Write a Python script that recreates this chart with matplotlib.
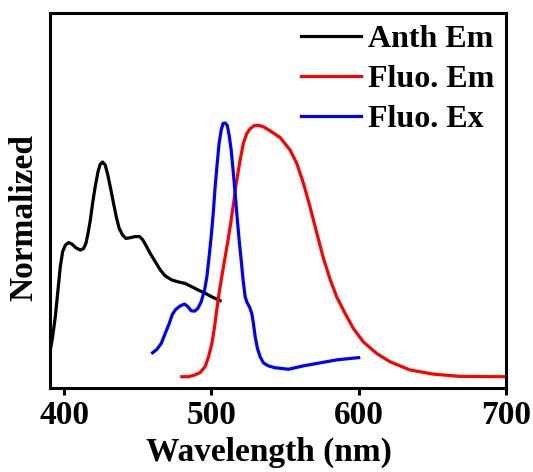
import matplotlib
matplotlib.use("Agg")
import matplotlib.pyplot as plt

# Anthracene emission (black)
anth_x = [390.5, 392.1, 393.9, 395.7, 397.3, 398.9, 400.7, 402.9, 405.2, 407.9,
          410.9, 413.1, 414.7, 416.1, 417.7, 419.2, 421.0, 422.9, 424.4, 426.0,
          427.8, 429.6, 431.5, 433.5, 435.3, 437.3, 439.6, 441.9, 444.8, 448.2,
          451.1, 453.2, 455.4, 458.4, 461.8, 465.2, 468.6, 473.1, 477.6, 482.1,
          486.7, 491.2, 495.7, 500.3, 505.9]
anth_y = [0.101, 0.137, 0.190, 0.261, 0.324, 0.364, 0.381, 0.388, 0.384, 0.374,
          0.368, 0.372, 0.386, 0.412, 0.448, 0.492, 0.537, 0.577, 0.597, 0.603,
          0.595, 0.568, 0.532, 0.492, 0.457, 0.426, 0.408, 0.399, 0.401, 0.404,
          0.404, 0.396, 0.381, 0.359, 0.337, 0.315, 0.299, 0.288, 0.283, 0.279,
          0.270, 0.261, 0.253, 0.243, 0.233]

# Fluorescein emission (red)
fem_x = [479.9, 484.4, 488.9, 492.3, 495.7, 498.0, 500.3, 502.1, 503.6, 505.2,
         507.0, 509.3, 511.6, 513.4, 515.0, 516.5, 518.3, 519.9, 521.7, 524.0,
         526.3, 529.0, 531.9, 535.3, 539.9, 546.7, 553.4, 558.0, 562.5, 567.0,
         571.6, 576.0, 580.6, 585.1, 590.8, 596.4, 603.2, 612.3, 621.3, 628.1,
         635.0, 650.7, 668.8, 700.0]
fem_y = [0.030, 0.030, 0.035, 0.041, 0.057, 0.083, 0.119, 0.163, 0.208, 0.253,
         0.297, 0.350, 0.403, 0.448, 0.492, 0.537, 0.581, 0.617, 0.653, 0.679,
         0.692, 0.700, 0.701, 0.697, 0.686, 0.668, 0.635, 0.599, 0.546, 0.483,
         0.413, 0.347, 0.290, 0.243, 0.199, 0.159, 0.123, 0.092, 0.070, 0.059,
         0.048, 0.037, 0.031, 0.030]

# Fluorescein excitation (blue)
fex_x = [460.0, 462.9, 465.9, 468.6, 471.3, 473.5, 475.8, 478.8, 481.7, 484.0,
         486.2, 488.5, 490.7, 493.0, 495.3, 496.9, 498.4, 499.8, 501.2, 502.5,
         503.9, 505.2, 506.6, 507.9, 509.3, 510.7, 512.0, 513.4, 514.7, 516.1,
         517.4, 518.8, 520.2, 521.5, 522.9, 524.2, 526.0, 527.4, 528.5, 529.7,
         531.2, 533.1, 535.3, 538.7, 543.2, 547.8, 552.3, 562.5, 573.8, 585.1,
         600.0]
fex_y = [0.094, 0.103, 0.119, 0.146, 0.172, 0.197, 0.210, 0.219, 0.224, 0.217,
         0.206, 0.205, 0.212, 0.230, 0.261, 0.297, 0.350, 0.403, 0.466, 0.537,
         0.599, 0.653, 0.688, 0.706, 0.707, 0.701, 0.675, 0.635, 0.581, 0.519,
         0.457, 0.395, 0.341, 0.288, 0.243, 0.228, 0.215, 0.199, 0.172, 0.137,
         0.106, 0.083, 0.067, 0.059, 0.054, 0.052, 0.050, 0.059, 0.067, 0.075,
         0.081]

labels = ["Anth Em", "Fluo. Em", "Fluo. Ex"]
x_ticks = [400, 500, 600, 700]

plt.rcParams['font.family'] = ['Liberation Serif', 'DejaVu Serif']
plt.rcParams['font.weight'] = 'bold'

fig = plt.figure(figsize=(5.33, 4.72), dpi=100)
ax = fig.add_axes([0.093, 0.178, 0.856, 0.794])

lw = 2.3
ax.plot(anth_x, anth_y, color='black', lw=lw, label=labels[0], solid_joinstyle='round')
ax.plot(fem_x, fem_y, color='#ff0000', lw=lw, label=labels[1], solid_joinstyle='round')
ax.plot(fex_x, fex_y, color='#0000ff', lw=lw, label=labels[2], solid_joinstyle='round')

ax.set_xlim(390, 700)
ax.set_ylim(0, 1)
ax.set_xticks(x_ticks)
ax.set_yticks([])

for s in ax.spines.values():
    s.set_linewidth(2.2)

ax.tick_params(axis='x', direction='out', length=5, width=2.2, pad=4,
               labelsize=24)
for t in ax.get_xticklabels():
    t.set_fontweight('bold')

ax.set_xlabel('Wavelength (nm)', fontsize=24, fontweight='bold', labelpad=4)
ax.xaxis.label.set_x(0.48)
ax.set_ylabel('Normalized', fontsize=24, fontweight='bold')
ax.yaxis.set_label_coords(-0.022, 0.455)

ax.legend(loc='upper right', frameon=False, handlelength=1.88,
          handletextpad=0.22, labelspacing=0.33, borderaxespad=0.15,
          borderpad=0.22, prop={'weight': 'bold', 'size': 23})

fig.savefig('out.png', dpi=100)
